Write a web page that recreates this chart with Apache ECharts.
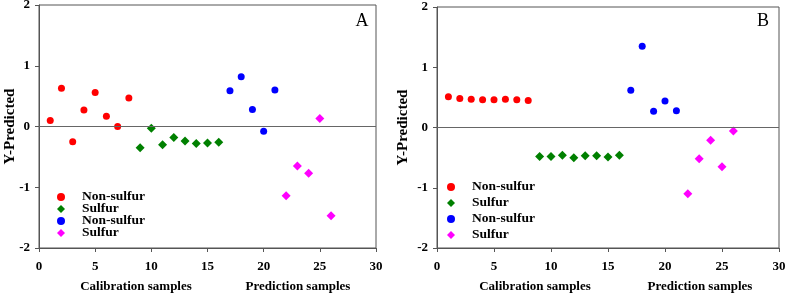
<!DOCTYPE html>
<html>
<head>
    <meta charset="UTF-8">
    <title>Y-Predicted</title>
    <script src="https://cdn.jsdelivr.net/npm/echarts@6/dist/echarts.min.js"></script>
    <style>
        body { margin: 0; background: #fff; }
        #root { width: 787px; height: 297px; }
    </style>
</head>
<body>
    <div id="root"></div>
    <script>
        // sample numbers
        var calNonX = [1, 2, 3, 4, 5, 6, 7, 8];
        var calSulX = [9, 10, 11, 12, 13, 14, 15, 16];
        var preNonX = [17, 18, 19, 20, 21];
        var preSulX = [22, 23, 24, 25, 26];

        // panel A
        var aCalNon = [0.10, 0.63, -0.25, 0.27, 0.56, 0.17, 0.00, 0.47];
        var aCalSul = [-0.35, -0.03, -0.30, -0.18, -0.24, -0.28, -0.27, -0.26];
        var aPreNon = [0.59, 0.82, 0.28, -0.08, 0.60];
        var aPreSul = [-1.14, -0.65, -0.77, 0.13, -1.47];

        // panel B
        var bCalNon = [0.51, 0.48, 0.47, 0.46, 0.46, 0.47, 0.46, 0.45];
        var bCalSul = [-0.48, -0.48, -0.46, -0.50, -0.47, -0.47, -0.49, -0.46];
        var bPreNon = [0.62, 1.35, 0.27, 0.44, 0.28];
        var bPreSul = [-1.10, -0.52, -0.21, -0.65, -0.06];

        var xTicks = [0, 5, 10, 15, 20, 25, 30];
        var yTicks = [-2, -1, 0, 1, 2];
        var legendNames = ['Non-sulfur', 'Sulfur', 'Non-sulfur', 'Sulfur'];

        var font = '"Liberation Serif", "Times New Roman", serif';
        var lineColor = '#555';

        function pairs(xs, ys) {
            return xs.map(function (x, i) { return [x, ys[i]]; });
        }

        function xAxisCfg(idx) {
            return {
                gridIndex: idx, type: 'value', min: xTicks[0], max: xTicks[xTicks.length - 1], interval: 5,
                axisLine: { show: true, onZero: false, lineStyle: { color: lineColor } },
                axisTick: { show: true, inside: false, length: 4, lineStyle: { color: lineColor } },
                axisLabel: { margin: 12, color: '#000', fontFamily: font, fontWeight: 'bold', fontSize: 13 },
                splitLine: { show: false }
            };
        }

        function yAxisCfg(idx, gap) {
            return {
                gridIndex: idx, type: 'value', min: yTicks[0], max: yTicks[yTicks.length - 1], interval: 1,
                name: 'Y-Predicted', nameLocation: 'middle', nameGap: gap, nameMoveOverlap: false,
                nameTextStyle: { color: '#000', fontFamily: font, fontWeight: 'bold', fontSize: 15 },
                axisLine: { show: true, onZero: false, lineStyle: { color: lineColor } },
                axisTick: { show: true, inside: false, length: 4, lineStyle: { color: lineColor } },
                axisLabel: { margin: 9, color: '#000', fontFamily: font, fontWeight: 'bold', fontSize: 13 },
                splitLine: { show: false }
            };
        }

        function series(panel, idx, data, color, symbol, size) {
            return {
                name: panel + idx, type: 'scatter', xAxisIndex: panel === 'A' ? 0 : 1, yAxisIndex: panel === 'A' ? 0 : 1,
                data: data, symbol: symbol, symbolSize: size,
                itemStyle: { color: color, opacity: 1 },
                silent: true
            };
        }

        function zeroLine(panel) {
            return {
                name: panel + 'zero', type: 'scatter', xAxisIndex: panel === 'A' ? 0 : 1, yAxisIndex: panel === 'A' ? 0 : 1,
                data: [], silent: true,
                markLine: {
                    silent: true, symbol: 'none', label: { show: false },
                    lineStyle: { color: '#666', width: 1, type: 'solid' },
                    data: [{ yAxis: 0 }]
                }
            };
        }

        function legendCfg(panel, left, top, gap) {
            return {
                orient: 'vertical', left: left, top: top, itemGap: gap, padding: 0,
                itemWidth: 8, itemHeight: 8,
                data: [panel + 0, panel + 1, panel + 2, panel + 3],
                formatter: function (n) { return legendNames[+n.slice(1)]; },
                textStyle: { color: '#000', fontFamily: font, fontWeight: 'bold', fontSize: 13.5, lineHeight: 12, padding: [0, 0, 0, 12] },
                selectedMode: false
            };
        }

        function text(x, y, s, size, weight) {
            return {
                type: 'text', x: x, y: y, silent: true,
                style: { text: s, fill: '#000', font: weight + ' ' + size + 'px ' + font, align: 'center', verticalAlign: 'middle' }
            };
        }

        var chart = echarts.init(document.getElementById('root'));
        chart.setOption({
            animation: false,
            grid: [
                { left: 39, top: 5, width: 337, height: 243, show: true, borderColor: lineColor, borderWidth: 1, outerBoundsMode: 'none' },
                { left: 437, top: 7, width: 342, height: 241, show: true, borderColor: lineColor, borderWidth: 1, outerBoundsMode: 'none' }
            ],
            xAxis: [xAxisCfg(0), xAxisCfg(1)],
            yAxis: [yAxisCfg(0, 21), yAxisCfg(1, 26)],
            legend: [legendCfg('A', 57, 190, -2), legendCfg('B', 447, 180, 2)],
            series: [
                series('A', 0, pairs(calNonX, aCalNon), '#ff0000', 'circle', 7),
                series('A', 1, pairs(calSulX, aCalSul), '#008000', 'diamond', 9),
                series('A', 2, pairs(preNonX, aPreNon), '#0000ff', 'circle', 7),
                series('A', 3, pairs(preSulX, aPreSul), '#ff00ff', 'diamond', 9),
                zeroLine('A'),
                series('B', 0, pairs(calNonX, bCalNon), '#ff0000', 'circle', 7),
                series('B', 1, pairs(calSulX, bCalSul), '#008000', 'diamond', 9),
                series('B', 2, pairs(preNonX, bPreNon), '#0000ff', 'circle', 7),
                series('B', 3, pairs(preSulX, bPreSul), '#ff00ff', 'diamond', 9),
                zeroLine('B')
            ],
            graphic: [
                text(136, 287, 'Calibration samples', 13, 'bold'),
                text(298, 287, 'Prediction samples', 13, 'bold'),
                text(535, 287, 'Calibration samples', 13, 'bold'),
                text(700, 287, 'Prediction samples', 13, 'bold'),
                text(362, 21, 'A', 18, 'normal'),
                text(763, 21, 'B', 18, 'normal')
            ]
        });
    </script>
</body>
</html>
